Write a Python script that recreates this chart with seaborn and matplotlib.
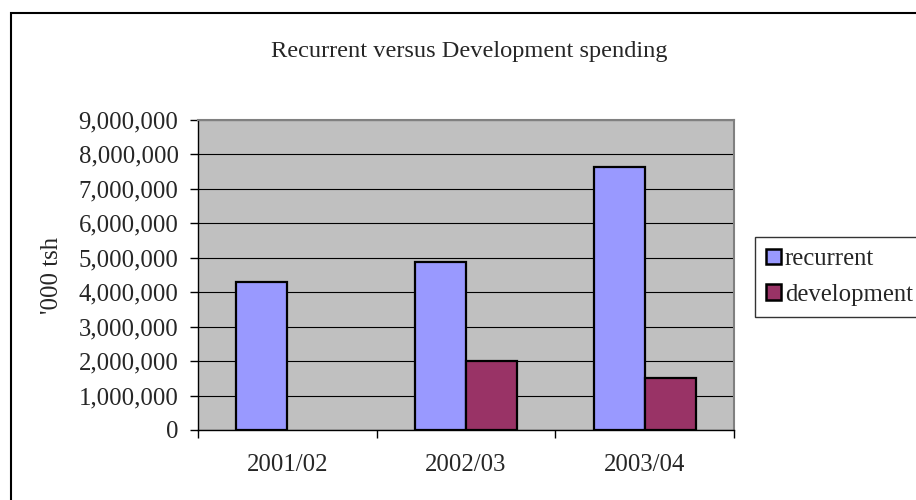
import numpy as np
import pandas as pd
import matplotlib
matplotlib.use("Agg")
import matplotlib.pyplot as plt
import matplotlib.patches as mpatches
import seaborn as sns

# Data ('000 tsh)
years = ['2001/02', '2002/03', '2003/04']
recurrent = [4290000, 4890000, 7630000]
development = [np.nan, 2010000, 1510000]
series = ['recurrent', 'development']
colors = {'recurrent': '#9999FF', 'development': '#993366'}
yticks = list(range(0, 9000001, 1000000))

df = pd.DataFrame({
    'year': years * 2,
    'series': ['recurrent'] * 3 + ['development'] * 3,
    'value': recurrent + development,
})

sns.set_theme(style='white')
plt.rcParams['font.family'] = ['Liberation Serif', 'DejaVu Serif']
plt.rcParams['font.size'] = 18

fig = plt.figure(figsize=(9.16, 5), dpi=100)
fig.patch.set_facecolor('white')
ax = fig.add_axes([198 / 916, 70 / 500, 536 / 916, 310 / 500])

sns.barplot(data=df, x='year', y='value', hue='series', hue_order=series,
            order=years, palette=colors, saturation=1, width=0.571,
            edgecolor='black', linewidth=1.6, errorbar=None, legend=False,
            ax=ax, zorder=3)

ax.set_facecolor('#C0C0C0')
ax.set_ylim(0, 9000000)
ax.set_xlim(-0.5, 2.5)
ax.set_yticks(yticks)
ax.set_yticklabels([f'{v:,}' for v in yticks], fontsize=17.8)
ax.yaxis.grid(True, color='black', linewidth=0.8, zorder=1)
ax.set_axisbelow(True)

# category ticks at the boundaries, labels in the middle
ax.set_xticks([-0.5, 0.5, 1.5, 2.5])
ax.set_xticklabels([])
ax.set_xticks([0, 1, 2], minor=True)
ax.set_xticklabels(years, minor=True, fontsize=17.8)
ax.tick_params(axis='x', which='major', direction='out', length=6, width=1,
               color='black', bottom=True)
ax.tick_params(axis='x', which='minor', length=0, pad=17)
ax.tick_params(axis='y', direction='out', length=6, width=1, color='black',
               left=True, pad=8)

ax.set_xlabel('')
ax.set_ylabel('')
for side in ['top', 'right']:
    ax.spines[side].set_color('#808080')
    ax.spines[side].set_linewidth(1.5)
for side in ['left', 'bottom']:
    ax.spines[side].set_color('black')
    ax.spines[side].set_linewidth(1)

fig.text(52 / 916, 1 - 275 / 500, "'000 tsh", rotation=90, ha='center',
         va='center', fontsize=17.8)
fig.text(469 / 916, 1 - 51 / 500, 'Recurrent versus Development spending',
         ha='center', va='center', fontsize=17.6)

handles = [mpatches.Patch(facecolor=colors[s], edgecolor='black',
                          linewidth=1.8, label=s) for s in series]
leg = fig.legend(handles=handles, loc='upper left',
                 bbox_to_anchor=(755 / 916, 1 - 237 / 500), frameon=True,
                 fancybox=False, edgecolor='black', fontsize=17.8,
                 handlelength=0.6, handleheight=0.6, handletextpad=0.15,
                 borderpad=0.45, labelspacing=0.55, borderaxespad=0)
leg.get_frame().set_linewidth(1)

# outer chart frame (runs off the right and bottom edges)
frame = mpatches.Rectangle((11 / 916, -0.1), 1.2, 1 - 13 / 500 + 0.1,
                           transform=fig.transFigure, fill=False,
                           edgecolor='black', linewidth=1.5)
fig.patches.append(frame)

fig.savefig('out.png', dpi=100)
plt.close()
